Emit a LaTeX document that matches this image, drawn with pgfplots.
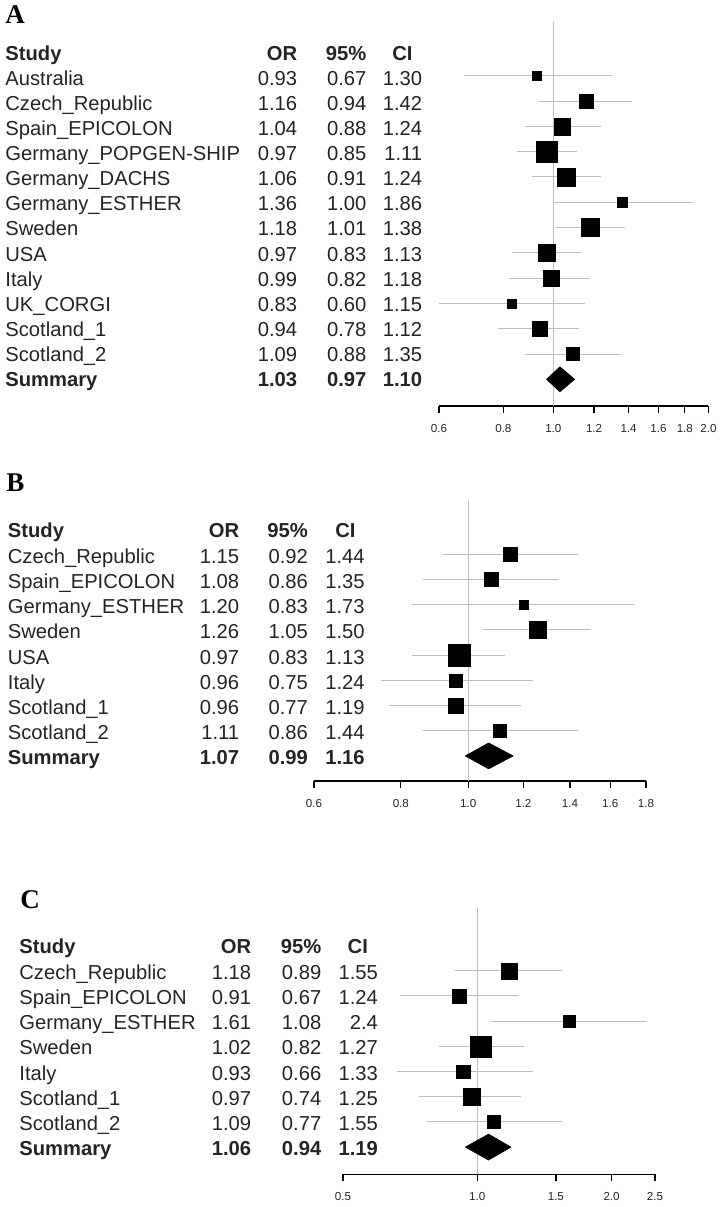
\documentclass[border=0pt]{standalone}
\usepackage{pgfplots}
\pgfplotsset{compat=1.18}
\usepackage{pgfplotstable}
\usepackage{fontspec}
\setmainfont{Liberation Sans}
\newfontfamily\tnr{Liberation Serif}
\definecolor{cigray}{gray}{0.74}
\definecolor{txt}{gray}{0.14}

% k = row, or = odds ratio, s = half side of the square (pt)
\pgfplotstableread{
k or lo hi s
1 0.93 0.67 1.30 2.25
2 1.16 0.94 1.42 3.5
3 1.04 0.88 1.24 4.2
4 0.97 0.85 1.11 5.25
5 1.06 0.91 1.24 4.4
6 1.36 1.00 1.86 2.3
7 1.18 1.01 1.38 4.5
8 0.97 0.83 1.13 4.3
9 0.99 0.82 1.18 3.9
10 0.83 0.60 1.15 2.25
11 0.94 0.78 1.12 3.75
12 1.09 0.88 1.35 3.3
}\dataA
\pgfplotstableread{
k or lo hi s
1 1.15 0.92 1.44 3.55
2 1.08 0.86 1.35 3.55
3 1.20 0.83 1.73 2.3
4 1.26 1.05 1.50 4.25
5 0.97 0.83 1.13 5.3
6 0.96 0.75 1.24 3.25
7 0.96 0.77 1.19 3.65
8 1.11 0.86 1.44 3.3
}\dataB
\pgfplotstableread{
k or lo hi s
1 1.18 0.89 1.55 4.0
2 0.91 0.67 1.24 3.55
3 1.61 1.08 2.4 3.0
4 1.02 0.82 1.27 5.25
5 0.93 0.66 1.33 3.3
6 0.97 0.74 1.25 4.25
7 1.09 0.77 1.55 3.2
}\dataC

\pgfplotsset{
  fplot/.style={
    scale only axis,
    axis x line=bottom, axis y line=none,
    x axis line style={-, line width=0.65pt, black},
    every tick/.style={line width=0.65pt, black},
    tick align=outside, major tick length=3.5pt,
    ytick=\empty, minor tick num=0,
    xticklabel style={font=\fontsize{5.8}{7}\selectfont, inner sep=0.5pt, yshift=-4.9pt, text=txt},
    clip=false, anchor=south west,
  },
  ci/.style={cigray, line width=0.5pt, unbounded coords=jump, forget plot},
  squares/.style={scatter, only marks, mark=square*,
    scatter/use mapped color={draw=black, fill=black},
    mark options={line width=0.15pt},
    visualization depends on={\thisrow{s}\as\msz},
    scatter/@pre marker code/.append style={/tikz/mark size=\msz},
    point meta=explicit},
}

\begin{document}
\begin{tikzpicture}
\begin{scope}[x=0.5pt, y=-0.5pt, inner sep=0pt, text=txt, font=\fontsize{10.1}{12}\selectfont]
\path (0,0) rectangle (720,1207);
% ---------- Panel A text ----------
\node[anchor=base west, font=\tnr\bfseries\fontsize{13.5}{15}\selectfont, text=black] at (5,23) {A};
\node[anchor=base west, font=\bfseries\fontsize{10.1}{12}\selectfont] at (5,60.5) {Study};
\node[anchor=base east, font=\bfseries\fontsize{10.1}{12}\selectfont] at (297.5,60.5) {OR};
\node[anchor=base east, font=\bfseries\fontsize{10.1}{12}\selectfont] at (366.8,60.5) {95\%};
\node[anchor=base east, font=\bfseries\fontsize{10.1}{12}\selectfont] at (413,60.5) {CI};
\foreach \n/\o/\l/\h [count=\i from 0] in {Australia/0.93/0.67/1.30, Czech\_Republic/1.16/0.94/1.42, Spain\_EPICOLON/1.04/0.88/1.24, Germany\_POPGEN-SHIP/0.97/0.85/1.11, Germany\_DACHS/1.06/0.91/1.24, Germany\_ESTHER/1.36/1.00/1.86, Sweden/1.18/1.01/1.38, USA/0.97/0.83/1.13, Italy/0.99/0.82/1.18, UK\_CORGI/0.83/0.60/1.15, Scotland\_1/0.94/0.78/1.12, Scotland\_2/1.09/0.88/1.35}{
  \pgfmathsetmacro\yb{85+25.15*\i}
  \node[anchor=base west] at (5,\yb) {\n};
  \node[anchor=base east] at (297.5,\yb) {\o};
  \node[anchor=base east] at (366.8,\yb) {\l};
  \node[anchor=base east] at (422.5,\yb) {\h};
}
\begin{scope}[font=\bfseries\fontsize{10.1}{12}\selectfont]
\node[anchor=base west] at (5,386.8) {Summary};
\node[anchor=base east] at (297.5,386.8) {1.03};
\node[anchor=base east] at (366.8,386.8) {0.97};
\node[anchor=base east] at (422.5,386.8) {1.10};
\end{scope}
% ---------- Panel B text ----------
\node[anchor=base west, font=\tnr\bfseries\fontsize{13.5}{15}\selectfont, text=black] at (6,491.7) {B};
\node[anchor=base west, font=\bfseries\fontsize{10.1}{12}\selectfont] at (7.5,537) {Study};
\node[anchor=base east, font=\bfseries\fontsize{10.1}{12}\selectfont] at (239.5,537) {OR};
\node[anchor=base east, font=\bfseries\fontsize{10.1}{12}\selectfont] at (308.3,537) {95\%};
\node[anchor=base east, font=\bfseries\fontsize{10.1}{12}\selectfont] at (356,537) {CI};
\foreach \n/\o/\l/\h [count=\i from 0] in {Czech\_Republic/1.15/0.92/1.44, Spain\_EPICOLON/1.08/0.86/1.35, Germany\_ESTHER/1.20/0.83/1.73, Sweden/1.26/1.05/1.50, USA/0.97/0.83/1.13, Italy/0.96/0.75/1.24, Scotland\_1/0.96/0.77/1.19, Scotland\_2/1.11/0.86/1.44}{
  \pgfmathsetmacro\yb{563.3+25.2*\i}
  \node[anchor=base west] at (7.5,\yb) {\n};
  \node[anchor=base east] at (239.5,\yb) {\o};
  \node[anchor=base east] at (308.3,\yb) {\l};
  \node[anchor=base east] at (365,\yb) {\h};
}
\begin{scope}[font=\bfseries\fontsize{10.1}{12}\selectfont]
\node[anchor=base west] at (7.5,764.9) {Summary};
\node[anchor=base east] at (239.5,764.9) {1.07};
\node[anchor=base east] at (308.3,764.9) {0.99};
\node[anchor=base east] at (365,764.9) {1.16};
\end{scope}
% ---------- Panel C text ----------
\node[anchor=base west, font=\tnr\bfseries\fontsize{13.5}{15}\selectfont, text=black] at (20,908.3) {C};
\node[anchor=base west, font=\bfseries\fontsize{10.1}{12}\selectfont] at (19,953.5) {Study};
\node[anchor=base east, font=\bfseries\fontsize{10.1}{12}\selectfont] at (251.5,953.5) {OR};
\node[anchor=base east, font=\bfseries\fontsize{10.1}{12}\selectfont] at (321.7,953.5) {95\%};
\node[anchor=base east, font=\bfseries\fontsize{10.1}{12}\selectfont] at (368.3,953.5) {CI};
\foreach \n/\o/\l/\h [count=\i from 0] in {Czech\_Republic/1.18/0.89/1.55, Spain\_EPICOLON/0.91/0.67/1.24, Germany\_ESTHER/1.61/1.08/2.4, Sweden/1.02/0.82/1.27, Italy/0.93/0.66/1.33, Scotland\_1/0.97/0.74/1.25, Scotland\_2/1.09/0.77/1.55}{
  \pgfmathsetmacro\yb{979.3+25.2*\i}
  \node[anchor=base west] at (19,\yb) {\n};
  \node[anchor=base east] at (251.5,\yb) {\o};
  \node[anchor=base east] at (321.7,\yb) {\l};
  \node[anchor=base east] at (378.3,\yb) {\h};
}
\begin{scope}[font=\bfseries\fontsize{10.1}{12}\selectfont]
\node[anchor=base west] at (19,1155.7) {Summary};
\node[anchor=base east] at (251.5,1155.7) {1.06};
\node[anchor=base east] at (321.7,1155.7) {0.94};
\node[anchor=base east] at (378.3,1155.7) {1.19};
\end{scope}
\end{scope}

% ---------- Panel A plot ----------
\begin{axis}[xmode=log, fplot, at={(219.5pt,-203pt)}, width=134.7pt, height=192pt,
  xmin=0.6, xmax=2.0, ymin=-14.055, ymax=1.1225,
  xtick={0.6,0.8,1.0,1.2,1.4,1.6,1.8,2.0},
  xticklabels={0.6,0.8,1.0,1.2,1.4,1.6,1.8,2.0}]
\addplot[cigray, line width=0.5pt, forget plot] coordinates {(1,1.1225) (1,-14.055)};
\addplot[ci] table {
x y
0.67 -1
1.30 -1
nan nan
0.94 -2
1.42 -2
nan nan
0.88 -3
1.24 -3
nan nan
0.85 -4
1.11 -4
nan nan
0.91 -5
1.24 -5
nan nan
1.00 -6
1.86 -6
nan nan
1.01 -7
1.38 -7
nan nan
0.83 -8
1.13 -8
nan nan
0.82 -9
1.18 -9
nan nan
0.60 -10
1.15 -10
nan nan
0.78 -11
1.12 -11
nan nan
0.88 -12
1.35 -12
};
\addplot[squares] table[x=or, y expr=-\thisrow{k}, meta=s] {\dataA};
\addplot[fill=black, draw=black, line width=0.3pt] coordinates {(0.97,-13) (1.03,-12.505) (1.10,-13) (1.03,-13.495) (0.97,-13)};
\end{axis}

% ---------- Panel B plot ----------
\begin{axis}[xmode=log, fplot, at={(156.95pt,-390.5pt)}, width=166pt, height=140pt,
  xmin=0.6, xmax=1.8, ymin=-9.996, ymax=1.115,
  xtick={0.6,0.8,1.0,1.2,1.4,1.6,1.8},
  xticklabels={0.6,0.8,1.0,1.2,1.4,1.6,1.8}]
\addplot[cigray, line width=0.5pt, forget plot] coordinates {(1,1.115) (1,-9.996)};
\addplot[ci] table {
x y
0.92 -1
1.44 -1
nan nan
0.86 -2
1.35 -2
nan nan
0.83 -3
1.73 -3
nan nan
1.05 -4
1.50 -4
nan nan
0.83 -5
1.13 -5
nan nan
0.75 -6
1.24 -6
nan nan
0.77 -7
1.19 -7
nan nan
0.86 -8
1.44 -8
};
\addplot[squares] table[x=or, y expr=-\thisrow{k}, meta=s] {\dataB};
\addplot[fill=black, draw=black, line width=0.3pt] coordinates {(0.99,-9) (1.07,-8.485) (1.16,-9) (1.07,-9.515) (0.99,-9)};
\end{axis}

% ---------- Panel C plot ----------
\begin{axis}[xmode=log, fplot, at={(171.45pt,-587.15pt)}, width=156pt, height=133.15pt,
  xmin=0.5, xmax=2.5, ymin=-9.079, ymax=1.488,
  xtick={0.5,1.0,1.5,2.0,2.5},
  xticklabels={0.5,1.0,1.5,2.0,2.5}]
\addplot[cigray, line width=0.5pt, forget plot] coordinates {(1,1.488) (1,-9.079)};
\addplot[ci] table {
x y
0.89 -1
1.55 -1
nan nan
0.67 -2
1.24 -2
nan nan
1.08 -3
2.4 -3
nan nan
0.82 -4
1.27 -4
nan nan
0.66 -5
1.33 -5
nan nan
0.74 -6
1.25 -6
nan nan
0.77 -7
1.55 -7
};
\addplot[squares] table[x=or, y expr=-\thisrow{k}, meta=s] {\dataC};
\addplot[fill=black, draw=black, line width=0.3pt] coordinates {(0.94,-8) (1.06,-7.485) (1.19,-8) (1.06,-8.515) (0.94,-8)};
\end{axis}
\end{tikzpicture}
\end{document}
